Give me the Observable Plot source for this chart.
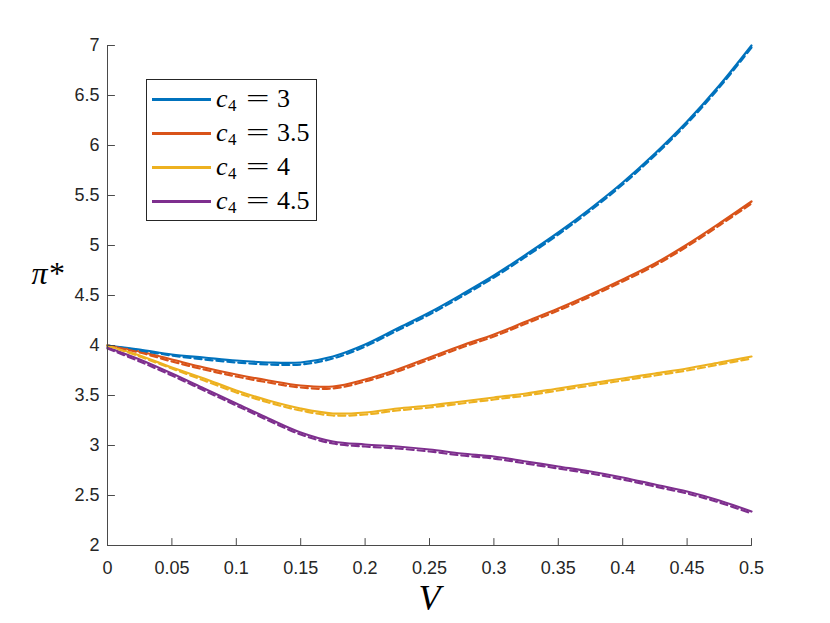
<!DOCTYPE html>
<html>
<head>
<meta charset="utf-8">
<script src="https://cdn.jsdelivr.net/npm/d3@7"></script>
<script src="https://cdn.jsdelivr.net/npm/@observablehq/plot@0.6"></script>
<style>
  html, body { margin: 0; padding: 0; background: #fff; }
  #wrap { position: relative; width: 830px; height: 623px; }
  #legend { position: absolute; left: 146px; top: 79px; width: 169px; height: 140px;
            border: 1px solid #262626; background: #fff;
            font-family: "Liberation Serif", serif; color: #000; }
  .row { position: absolute; left: 0; width: 169px; height: 34px; }
  .sw { position: absolute; left: 5px; width: 59px; height: 2.5px; top: 16px; }
  .t { position: absolute; top: 0; line-height: 34px; font-size: 26px; white-space: nowrap; }
  .c { font-style: italic; left: 69px; }
  .sub { left: 81px; font-size: 17px; top: 7px; }
  .eq { left: 99px; transform: scaleX(1.6); transform-origin: 0 50%; }
  .num { left: 130px; }
</style>
</head>
<body>
<div id="wrap"></div>
<script>
// ---- data ----
const V = [0, 0.025, 0.05, 0.075, 0.1, 0.125, 0.15, 0.175, 0.2, 0.225, 0.25,
           0.275, 0.3, 0.325, 0.35, 0.375, 0.4, 0.425, 0.45, 0.475, 0.5];

const c4Labels = ["3", "3.5", "4", "4.5"];
const colors = ["#0072BD", "#D95319", "#EDB120", "#7E2F8E"];

const solid3   = [4.00, 3.96, 3.91, 3.88, 3.85, 3.83, 3.83, 3.89, 4.01, 4.17, 4.33, 4.51, 4.70, 4.91, 5.13, 5.37, 5.63, 5.92, 6.24, 6.60, 7.00];
const dashed3  = [4.00, 3.95, 3.90, 3.86, 3.83, 3.81, 3.81, 3.87, 3.99, 4.15, 4.31, 4.49, 4.68, 4.89, 5.11, 5.35, 5.61, 5.90, 6.22, 6.58, 6.98];
const solid35  = [4.00, 3.94, 3.86, 3.78, 3.71, 3.65, 3.60, 3.59, 3.66, 3.76, 3.88, 4.00, 4.11, 4.24, 4.37, 4.51, 4.66, 4.82, 5.01, 5.22, 5.44];
const dashed35 = [4.00, 3.93, 3.84, 3.76, 3.69, 3.63, 3.58, 3.57, 3.64, 3.74, 3.86, 3.98, 4.09, 4.22, 4.35, 4.49, 4.64, 4.80, 4.99, 5.20, 5.42];
const solid4   = [4.00, 3.90, 3.78, 3.67, 3.55, 3.45, 3.37, 3.32, 3.33, 3.37, 3.40, 3.44, 3.48, 3.52, 3.57, 3.62, 3.67, 3.72, 3.77, 3.83, 3.89];
const dashed4  = [4.00, 3.89, 3.77, 3.65, 3.53, 3.43, 3.35, 3.30, 3.31, 3.35, 3.38, 3.42, 3.46, 3.50, 3.55, 3.60, 3.65, 3.70, 3.75, 3.81, 3.87];
const solid45  = [3.98, 3.86, 3.72, 3.57, 3.42, 3.27, 3.13, 3.04, 3.01, 2.99, 2.96, 2.92, 2.89, 2.84, 2.79, 2.74, 2.68, 2.61, 2.54, 2.45, 2.34];
const dashed45 = [3.97, 3.84, 3.70, 3.55, 3.40, 3.25, 3.11, 3.02, 2.99, 2.97, 2.94, 2.90, 2.87, 2.82, 2.77, 2.72, 2.66, 2.59, 2.52, 2.43, 2.32];

const xTicks = [0, 0.05, 0.1, 0.15, 0.2, 0.25, 0.3, 0.35, 0.4, 0.45, 0.5];
const yTicks = [2, 2.5, 3, 3.5, 4, 4.5, 5, 5.5, 6, 6.5, 7];
const xDomain = [0, 0.5];
const yDomain = [2, 7];
const xLabel = "V";
const yLabel = "π*";

// ---- build table ----
const solids = [solid3, solid35, solid4, solid45];
const dashes = [dashed3, dashed35, dashed4, dashed45];
const solidRows = solids.flatMap((arr, k) => arr.map((p, i) => ({V: V[i], p, s: c4Labels[k]})));
const dashRows = dashes.flatMap((arr, k) => arr.map((p, i) => ({V: V[i], p, s: c4Labels[k]})));

const axisColor = "#4a4a4a";
const textColor = "#262626";
const tickShape = {draw(ctx, l) { ctx.moveTo(0, 0); ctx.lineTo(0, -l); }};

const chart = Plot.plot({
  width: 830,
  height: 623,
  marginLeft: 107,
  marginRight: 79,
  marginTop: 45,
  marginBottom: 78,
  x: {domain: xDomain, axis: null},
  y: {domain: yDomain, axis: null},
  color: {domain: c4Labels, range: colors},
  style: {fontFamily: "'Liberation Sans', Arial, sans-serif", background: "#fff"},
  marks: [
    Plot.line(solidRows, {x: "V", y: "p", z: "s", stroke: "s", strokeWidth: 2.2, curve: "catmull-rom"}),
    Plot.line(dashRows, {x: "V", y: "p", z: "s", stroke: "s", strokeWidth: 2.2, strokeDasharray: "7,4", curve: "catmull-rom"}),
    Plot.ruleY([yDomain[0]], {stroke: axisColor, strokeWidth: 1}),
    Plot.ruleX([xDomain[0]], {stroke: axisColor, strokeWidth: 1}),
    Plot.vector(xTicks, {x: d => d, y: yDomain[0], length: 7, rotate: 0, anchor: "start", shape: tickShape, stroke: axisColor, strokeWidth: 1}),
    Plot.vector(yTicks, {x: xDomain[0], y: d => d, length: 7, rotate: 90, anchor: "start", shape: tickShape, stroke: axisColor, strokeWidth: 1}),
    Plot.text(xTicks, {x: d => d, y: yDomain[0], text: d => String(d), dy: 23, fontSize: 18, fill: textColor}),
    Plot.text(yTicks, {x: xDomain[0], y: d => d, text: d => String(d), dx: -8, textAnchor: "end", fontSize: 18, fill: textColor}),
    Plot.text([xLabel], {frameAnchor: "bottom", lineAnchor: "middle", text: d => d, dy: 53, fontSize: 36, fontStyle: "italic", fontFamily: "'Liberation Serif', serif", fill: "#000"}),
    Plot.text([yLabel], {frameAnchor: "left", text: d => d, dx: -76, dy: -22, textAnchor: "start", fontSize: 32, fontStyle: "italic", fontFamily: "'Liberation Serif', serif", fill: "#000"})
  ]
});

const wrap = document.getElementById("wrap");
wrap.appendChild(chart);

// ---- legend ----
const legend = document.createElement("div");
legend.id = "legend";
c4Labels.forEach((lab, k) => {
  const row = document.createElement("div");
  row.className = "row";
  row.style.top = (2 + 34 * k) + "px";
  row.innerHTML = `<span class="sw" style="background:${colors[k]}"></span>` +
    `<span class="t c">c</span><span class="t sub">4</span>` +
    `<span class="t eq">=</span><span class="t num">${lab}</span>`;
  legend.appendChild(row);
});
wrap.appendChild(legend);
</script>
</body>
</html>
